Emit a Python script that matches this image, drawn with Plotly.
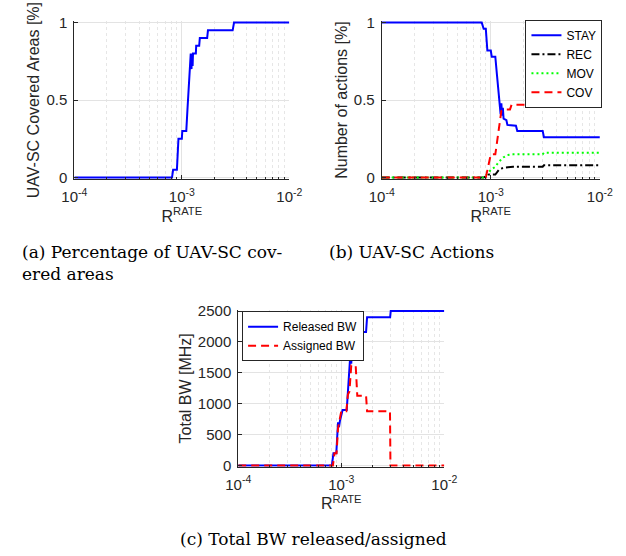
import plotly.graph_objects as go

W, H = 626, 556

# ---------------- data ----------------
# (a) UAV-SC covered areas
rate_a = [1e-4, 8.1e-4, 8.3e-4, 9.0e-4, 9.3e-4, 1.0e-3, 1.01e-3, 1.10e-3, 1.13e-3, 1.21e-3,
          1.23e-3, 1.24e-3, 1.26e-3, 1.27e-3, 1.30e-3, 1.35e-3, 1.36e-3, 1.45e-3, 1.47e-3,
          1.72e-3, 1.75e-3, 2.97e-3, 3.06e-3, 1e-2]
covered = [0, 0, 0.05, 0.05, 0.25, 0.25, 0.30, 0.30, 0.45, 0.80,
           0.70, 0.80, 0.72, 0.80, 0.80, 0.80, 0.85, 0.85, 0.90,
           0.90, 0.95, 0.95, 1.0, 1.0]

# (b) UAV-SC actions
rate_stay = [1e-4, 8.26e-4, 8.6e-4, 9.0e-4, 9.3e-4, 1.0e-3, 1.02e-3, 1.10e-3, 1.14e-3, 1.23e-3,
             1.25e-3, 1.27e-3, 1.29e-3, 1.31e-3, 1.39e-3, 1.42e-3, 1.70e-3, 1.75e-3, 2.99e-3,
             3.07e-3, 1e-2]
stay = [1, 1, 0.96, 0.96, 0.82, 0.82, 0.78, 0.78, 0.66, 0.41,
        0.48, 0.40, 0.45, 0.38, 0.37, 0.34, 0.335, 0.30, 0.30,
        0.26, 0.26]
rate_rec = [1e-4, 8.6e-4, 9.6e-4, 1.1e-3, 1.2e-3, 1.35e-3, 1.6e-3, 2.99e-3, 3.07e-3, 1e-2]
rec = [0, 0, 0.02, 0.02, 0.055, 0.065, 0.07, 0.07, 0.08, 0.08]
rate_mov = [1e-4, 8.5e-4, 9.5e-4, 1.0e-3, 1.1e-3, 1.18e-3, 1.3e-3, 1.42e-3, 1.6e-3, 2.99e-3, 3.07e-3, 1e-2]
mov = [0, 0, 0.03, 0.05, 0.07, 0.10, 0.13, 0.145, 0.15, 0.15, 0.16, 0.16]
rate_cov = [1e-4, 9.0e-4, 1.0e-3, 1.10e-3, 1.25e-3, 1.34e-3, 1.50e-3, 1.55e-3, 2.99e-3, 3.07e-3, 1e-2]
cov = [0, 0, 0.15, 0.15, 0.43, 0.44, 0.44, 0.47, 0.47, 0.50, 0.50]

# (c) Total BW released / assigned [MHz]
rate_rel = [1e-4, 8.1e-4, 8.4e-4, 8.95e-4, 9.3e-4, 9.5e-4, 9.7e-4, 1.03e-3, 1.13e-3, 1.23e-3,
            1.25e-3, 1.27e-3, 1.35e-3, 1.37e-3, 1.43e-3, 1.45e-3, 1.74e-3, 1.78e-3, 2.98e-3,
            3.02e-3, 1e-2]
released = [0, 0, 200, 200, 700, 620, 720, 900, 900, 1850,
            1650, 1860, 1860, 2050, 2060, 2160, 2160, 2400, 2400,
            2500, 2500]
rate_asg = [1e-4, 8.3e-4, 8.6e-4, 9.0e-4, 9.3e-4, 9.6e-4, 1.0e-3, 1.12e-3, 1.16e-3, 1.2e-3,
            1.25e-3, 1.38e-3, 1.43e-3, 1.74e-3, 1.78e-3, 2.97e-3, 3.0e-3, 1e-2]
assigned = [0, 0, 200, 200, 600, 700, 880, 880, 1150, 1200,
            1620, 1620, 1130, 1130, 880, 880, 0, 0]

xtickvals = [1e-4, 1e-3, 1e-2]
xticktext = ['10<sup>-4</sup>', '10<sup>-3</sup>', '10<sup>-2</sup>']
xminorvals = [m * d for d in (1e-4, 1e-3) for m in range(2, 10)]

# ---------------- figure ----------------
fig = go.Figure()
BLUE, RED, GREEN, BLACK = '#0000ff', '#ff0000', '#00ff00', '#000000'

fig.add_trace(go.Scatter(x=rate_a, y=covered, mode='lines', line=dict(color=BLUE, width=2),
                         xaxis='x', yaxis='y', showlegend=False))

fig.add_trace(go.Scatter(x=rate_stay, y=stay, name='STAY', mode='lines',
                         line=dict(color=BLUE, width=2), xaxis='x2', yaxis='y2', legend='legend'))
fig.add_trace(go.Scatter(x=rate_rec, y=rec, name='REC', mode='lines',
                         line=dict(color=BLACK, width=2, dash='8px,3px,2px,3px'), xaxis='x2', yaxis='y2', legend='legend'))
fig.add_trace(go.Scatter(x=rate_mov, y=mov, name='MOV', mode='lines',
                         line=dict(color=GREEN, width=2, dash='2px,3px'), xaxis='x2', yaxis='y2', legend='legend'))
fig.add_trace(go.Scatter(x=rate_cov, y=cov, name='COV', mode='lines',
                         line=dict(color=RED, width=2, dash='8px,5px'), xaxis='x2', yaxis='y2', legend='legend'))

fig.add_trace(go.Scatter(x=rate_rel, y=released, name='Released BW', mode='lines',
                         line=dict(color=BLUE, width=2), xaxis='x3', yaxis='y3', legend='legend2'))
fig.add_trace(go.Scatter(x=rate_asg, y=assigned, name='Assigned BW', mode='lines',
                         line=dict(color=RED, width=2, dash='8px,5px'), xaxis='x3', yaxis='y3', legend='legend2'))

AX = '#262626'
SANS = 'Liberation Sans, Arial, sans-serif'
TICKFONT = dict(family=SANS, size=15, color=AX)
TITLEFONT = dict(family=SANS, size=16, color=AX)


def xaxis(x0, x1, anchor):
    return dict(type='log', range=[-4, -2], domain=[x0 / W, x1 / W], anchor=anchor,
                tickmode='array', tickvals=xtickvals, ticktext=xticktext, tickfont=TICKFONT,
                ticklabelstandoff=4,
                showline=True, linecolor=AX, linewidth=1, mirror=False,
                ticks='inside', ticklen=4, tickcolor=AX,
                showgrid=True, gridcolor='#e3e3e3', gridwidth=1,
                minor=dict(tickmode='array', tickvals=xminorvals, showgrid=True,
                           gridcolor='#e6e6e6', griddash='dot', gridwidth=1,
                           ticks='inside', ticklen=2, tickcolor=AX),
                zeroline=False,
                title=dict(text='R<sup>RATE</sup>', font=TITLEFONT, standoff=1))


def yaxis(ytop, ybot, anchor, rng, tickvals, title):
    return dict(range=rng, domain=[1 - ybot / H, 1 - ytop / H], anchor=anchor,
                tickmode='array', tickvals=tickvals, tickfont=TICKFONT,
                ticklabelstandoff=3,
                showline=True, linecolor=AX, linewidth=1, mirror=False,
                ticks='inside', ticklen=4, tickcolor=AX,
                showgrid=True, gridcolor='#e3e3e3', gridwidth=1, zeroline=False,
                title=dict(text=title, font=TITLEFONT, standoff=2))


fig.update_layout(
    width=W, height=H, margin=dict(l=0, r=0, t=0, b=0),
    paper_bgcolor='white', plot_bgcolor='white',
    xaxis=xaxis(64, 288.3, 'y'),
    yaxis=yaxis(14.4, 176.6, 'x', [-0.01, 1.01], [0, 0.5, 1], 'UAV-SC Covered Areas [%]'),
    xaxis2=xaxis(384.7, 612.3, 'y2'),
    yaxis2=yaxis(14.4, 176.6, 'x2', [-0.01, 1.01], [0, 0.5, 1], 'Number of actions [%]'),
    xaxis3=xaxis(235, 450, 'y3'),
    yaxis3=yaxis(310.7, 471.6, 'x3', [-20, 2520], [0, 500, 1000, 1500, 2000, 2500], 'Total BW [MHz]'),
    legend=dict(x=615 / W, xanchor='right', y=1 - 13 / H, yanchor='top',
                bgcolor='white', bordercolor=AX, borderwidth=1,
                font=dict(family=SANS, size=12, color='#000000'),
                tracegroupgap=0, itemwidth=30),
    legend2=dict(x=239 / W, xanchor='left', y=1 - 312 / H, yanchor='top',
                 bgcolor='white', bordercolor=AX, borderwidth=1,
                 font=dict(family=SANS, size=12, color='#000000'),
                 tracegroupgap=0, itemwidth=30),
)

CAP = dict(family='DejaVu Serif, serif', size=17, color='#000000')
captions = [
    ('(a) Percentage of UAV-SC cov-', 7, 251),
    ('ered areas', 7, 274),
    ('(b) UAV-SC Actions', 328, 251),
]
for txt, x, y in captions:
    fig.add_annotation(text=txt, x=x / W, y=1 - y / H, xref='paper', yref='paper',
                       xanchor='left', yanchor='middle', showarrow=False, font=CAP)
fig.add_annotation(text='(c) Total BW released/assigned', x=313 / W, y=1 - 546 / H,
                   xref='paper', yref='paper', xanchor='center', yanchor='middle',
                   showarrow=False, font=CAP)

fig.write_html('out.html')
